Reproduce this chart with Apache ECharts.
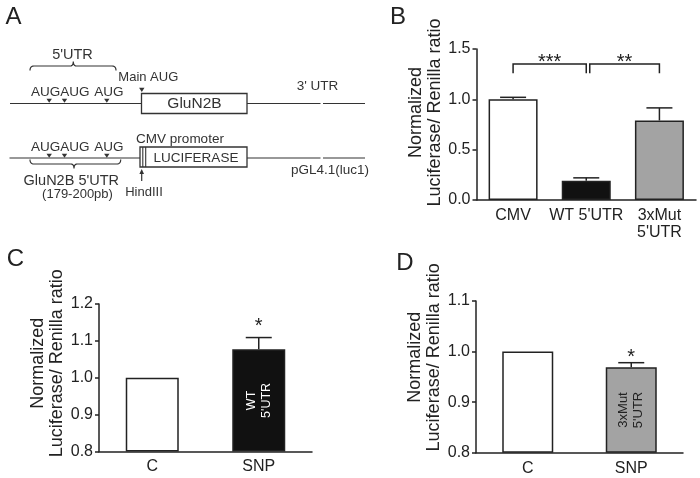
<!DOCTYPE html>
<html>
<head>
<meta charset="utf-8">
<script src="https://cdn.jsdelivr.net/npm/echarts@6/dist/echarts.min.js"></script>
<style>
html,body{margin:0;padding:0;background:#fff;}
#chart{width:700px;height:478px;}
</style>
</head>
<body>
<div id="chart"></div>
<script>
// ---------- data ----------
const catsB = ['CMV', "WT 5'UTR", "3xMut\n5'UTR"];
const valsB = [1.0, 0.19, 0.79];
const errB  = [0.02, 0.03, 0.125];
const sigB  = [{from: 0, to: 1, label: '***'}, {from: 1, to: 2, label: '**'}];

const catsC = ['C', 'SNP'];
const valsC = [1.0, 1.077];
const errC  = [0, 0.032];
const sigC  = ['', '*'];
const innerC = ['', "WT\n5'UTR"];

const catsD = ['C', 'SNP'];
const valsD = [1.0, 0.969];
const errD  = [0, 0.009];
const sigD  = ['', '*'];
const innerD = ['', "3xMut\n5'UTR"];

const yNameLines = ['Normalized', 'Luciferase/ Renilla ratio'];

// ---------- styles ----------
const FONT = 'Liberation Sans, Arial, sans-serif';
const INK = '#222';
const LC = '#333';
const fillsB = ['#ffffff', '#111111', '#a3a3a3'];
const fillsC = ['#ffffff', '#111111'];
const fillsD = ['#ffffff', '#a3a3a3'];

function xAxisCfg(idx, cats) {
  return {
    type: 'category', gridIndex: idx, data: cats,
    axisLine: {lineStyle: {color: INK, width: 1.5}},
    axisTick: {show: false},
    axisLabel: {color: INK, fontSize: 16, fontFamily: FONT, margin: 7, interval: 0, lineHeight: 17}
  };
}
function yAxisCfg(idx, min, max, interval, gap, shiftPad) {
  return {
    type: 'value', gridIndex: idx, min: min, max: max, interval: interval, startValue: min,
    axisLine: {show: true, lineStyle: {color: INK, width: 1.5}},
    axisTick: {show: true, length: 4, lineStyle: {color: INK, width: 1.5}},
    splitLine: {show: false},
    axisLabel: {color: INK, fontSize: 16, fontFamily: FONT, margin: 6,
      formatter: v => v.toFixed(1)},
    name: yNameLines.join('\n'), nameLocation: 'middle', nameRotate: 90, nameGap: gap,
    nameTextStyle: {color: INK, fontSize: 18, fontFamily: FONT, lineHeight: 19,
      padding: [0, 0, 0, shiftPad]}
  };
}
function barSeries(idx, vals, fills, width, inner, innerColor, innerSize) {
  return {
    type: 'bar', xAxisIndex: idx, yAxisIndex: idx, barWidth: width, z: 2,
    itemStyle: {borderColor: INK, borderWidth: 1.5},
    data: vals.map((v, i) => {
      const d = {value: v, itemStyle: {color: fills[i]}};
      if (inner && inner[i]) {
        d.label = {show: true, position: 'inside', rotate: 90, formatter: inner[i],
          color: innerColor, fontSize: innerSize, fontFamily: FONT, lineHeight: 15, align: 'center'};
      }
      return d;
    })
  };
}
function errSeries(idx, vals, errs, sigs, starOffset) {
  return {
    type: 'custom', xAxisIndex: idx, yAxisIndex: idx, z: 5,
    data: vals.map((v, i) => [i, v, v + errs[i]]),
    renderItem: function (params, api) {
      const i = params.dataIndex;
      const p0 = api.coord([api.value(0), api.value(1)]);
      const p1 = api.coord([api.value(0), api.value(2)]);
      const children = [];
      if (errs[i] > 0) {
        children.push({type: 'line', shape: {x1: p0[0], y1: p0[1], x2: p1[0], y2: p1[1]},
          style: {stroke: INK, lineWidth: 1.5}});
        children.push({type: 'line', shape: {x1: p1[0] - 13, y1: p1[1], x2: p1[0] + 13, y2: p1[1]},
          style: {stroke: INK, lineWidth: 1.5}});
      }
      if (sigs && sigs[i]) {
        children.push({type: 'text', x: p1[0], y: p1[1] - starOffset,
          style: {text: sigs[i], fill: INK, fontSize: 20, fontFamily: FONT, align: 'center', verticalAlign: 'middle'}});
      }
      return {type: 'group', children: children};
    }
  };
}
const bracketTop = 1.35, bracketDrop = 1.26;
const bracketSeries = {
  type: 'custom', xAxisIndex: 0, yAxisIndex: 0, z: 5,
  data: sigB.map(s => [s.from, s.to]),
  renderItem: function (params, api) {
    const i = params.dataIndex;
    const a = api.coord([api.value(0), bracketTop]);
    const b = api.coord([api.value(1), bracketTop]);
    const dY = api.coord([api.value(0), bracketDrop])[1];
    const xa = a[0] + (i > 0 ? 3.5 : 0);
    const xb = b[0];
    return {type: 'group', children: [
      {type: 'polyline', shape: {points: [[xa, dY], [xa, a[1]], [xb, a[1]], [xb, dY]]},
        style: {stroke: INK, lineWidth: 1.5, fill: null}},
      {type: 'text', x: (xa + xb) / 2, y: a[1] - 2,
        style: {text: sigB[i].label, fill: INK, fontSize: 20, fontFamily: FONT, align: 'center', verticalAlign: 'middle'}}
    ]};
  }
};

// ---------- panel A schematic ----------
function txt(x, y, s, size) {
  return {type: 'text', x: x, y: y, style: {text: s, fill: LC, fontSize: size || 13.5, fontFamily: FONT, align: 'center', verticalAlign: 'middle'}};
}
function tri(x, yTop, yTip) {
  return {type: 'polygon', shape: {points: [[x - 2.7, yTop], [x + 2.7, yTop], [x, yTip]]}, style: {fill: LC}};
}
function hline(x1, x2, y) {
  return {type: 'line', shape: {x1: x1, y1: y, x2: x2, y2: y}, style: {stroke: LC, lineWidth: 1.1}};
}
function quadPts(p0, c, p1, n) {
  const pts = [];
  for (let k = 0; k <= n; k++) {
    const t = k / n, u = 1 - t;
    pts.push([u * u * p0[0] + 2 * u * t * c[0] + t * t * p1[0], u * u * p0[1] + 2 * u * t * c[1] + t * t * p1[1]]);
  }
  return pts;
}
function brace(x1, x2, xm, yEnd, yBar, yNib) {
  let pts = [];
  pts = pts.concat(quadPts([x1, yEnd], [x1, yBar], [x1 + 4, yBar], 6));
  pts = pts.concat(quadPts([xm - 3.3, yBar], [xm, yBar], [xm, yNib], 5));
  pts = pts.concat(quadPts([xm, yNib], [xm, yBar], [xm + 3.3, yBar], 5));
  pts = pts.concat(quadPts([x2 - 4, yBar], [x2, yBar], [x2, yEnd], 6));
  return {type: 'polyline', shape: {points: pts}, style: {stroke: LC, lineWidth: 1.2, fill: null}};
}
const schematic = [
  // top construct
  hline(10, 320.5, 103.5), hline(323, 365, 103.5),
  {type: 'rect', shape: {x: 141.5, y: 93.5, width: 105.5, height: 20}, style: {fill: '#fff', stroke: LC, lineWidth: 1.3}},
  txt(194.5, 103.5, 'GluN2B', 15.5),
  tri(49.2, 98.8, 102.8), tri(64.5, 98.8, 102.8), tri(106.8, 98.8, 102.8),
  tri(141.8, 87.8, 92),
  txt(60.2, 92.3, 'AUGAUG'), txt(108.8, 92.3, 'AUG'),
  txt(148.3, 77.3, 'Main AUG', 13),
  brace(30, 116, 73.3, 70.5, 66, 61.5),
  txt(72.5, 54.5, "5'UTR", 14.5),
  txt(317.5, 86, "3' UTR"),
  // bottom construct
  hline(9.5, 320.5, 158), hline(323, 365, 158),
  {type: 'rect', shape: {x: 140, y: 147, width: 107, height: 20}, style: {fill: '#fff', stroke: LC, lineWidth: 1.3}},
  {type: 'line', shape: {x1: 142.8, y1: 147, x2: 142.8, y2: 167}, style: {stroke: LC, lineWidth: 1.1}},
  {type: 'line', shape: {x1: 145.7, y1: 147, x2: 145.7, y2: 167}, style: {stroke: LC, lineWidth: 1.1}},
  txt(196, 158, 'LUCIFERASE'),
  txt(180, 139, 'CMV promoter'),
  tri(49.2, 153.8, 157.8), tri(64.5, 153.8, 157.8), tri(106.8, 153.8, 157.8),
  txt(60.2, 147.3, 'AUGAUG'), txt(108.8, 147.3, 'AUG'),
  brace(30, 120.7, 74, 159.5, 164, 168.5),
  txt(71.3, 180.7, "GluN2B 5'UTR", 14.5),
  txt(77.5, 194.5, '(179-200pb)', 13),
  {type: 'line', shape: {x1: 141.7, y1: 172, x2: 141.7, y2: 181}, style: {stroke: LC, lineWidth: 1.2}},
  {type: 'polygon', shape: {points: [[139.4, 174], [144, 174], [141.7, 169]]}, style: {fill: LC}},
  txt(144, 192, 'HindIII', 13),
  txt(330, 170, 'pGL4.1(luc1)')
];
const letters = [
  {type: 'text', x: 13.5, y: 17.5, style: {text: 'A', fill: INK, fontSize: 24, fontFamily: FONT, align: 'center', verticalAlign: 'middle'}},
  {type: 'text', x: 398, y: 17.5, style: {text: 'B', fill: INK, fontSize: 24, fontFamily: FONT, align: 'center', verticalAlign: 'middle'}},
  {type: 'text', x: 15.5, y: 259, style: {text: 'C', fill: INK, fontSize: 24, fontFamily: FONT, align: 'center', verticalAlign: 'middle'}},
  {type: 'text', x: 405, y: 263, style: {text: 'D', fill: INK, fontSize: 24, fontFamily: FONT, align: 'center', verticalAlign: 'middle'}}
];

const gridBase = {containLabel: false, outerBoundsMode: 'none'};
const option = {
  animation: false,
  backgroundColor: '#fff',
  textStyle: {fontFamily: FONT},
  grid: [
    Object.assign({left: 476.5, top: 49, right: 4, bottom: 278}, gridBase),
    Object.assign({left: 99, top: 304, right: 388, bottom: 26.5}, gridBase),
    Object.assign({left: 476, top: 301, right: 17, bottom: 25.3}, gridBase)
  ],
  xAxis: [xAxisCfg(0, catsB), xAxisCfg(1, catsC), xAxisCfg(2, catsD)],
  yAxis: [
    yAxisCfg(0, 0, 1.5, 0.5, 32, 24),
    yAxisCfg(1, 0.8, 1.2, 0.1, 28, 29),
    yAxisCfg(2, 0.8, 1.1, 0.1, 32, 39)
  ],
  series: [
    barSeries(0, valsB, fillsB, 49),
    barSeries(1, valsC, fillsC, 53, innerC, '#fff', 12.5),
    barSeries(2, valsD, fillsD, 51, innerD, INK, 13),
    errSeries(0, valsB, errB, null, 0),
    errSeries(1, valsC, errC, sigC, 11),
    errSeries(2, valsD, errD, sigD, 5),
    bracketSeries
  ],
  graphic: [{type: 'group', children: schematic.concat(letters)}]
};
const chart = echarts.init(document.getElementById('chart'), null, {renderer: 'canvas'});
chart.setOption(option);
</script>
</body>
</html>
